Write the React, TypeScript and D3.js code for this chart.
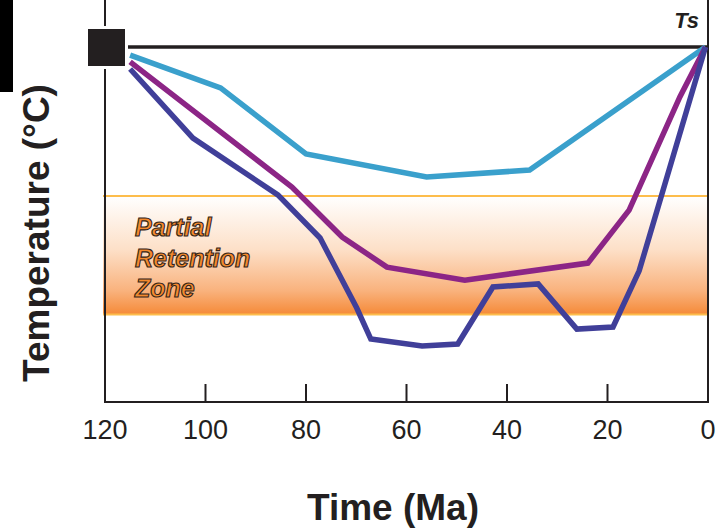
import React, { useEffect, useRef } from "react";
import * as d3 from "d3";

// time axis (Ma)
const ageTicks = [120, 100, 80, 60, 40, 20, 0];

// partial retention zone bounds (°C) and surface temperature
const przBounds = [63, 113];
const surfaceTemp = 0;
const przLines = ["Partial", "Retention", "Zone"];

// three cooling paths: age (Ma) and temperature (°C)
const shallowAges = [115, 97, 80, 56, 35.5, 0.5];
const shallowTemps = [3.4, 17.3, 45.2, 54.9, 52, 0];

const middleAges = [115, 82.8, 72.8, 63.9, 48.4, 23.9, 15.7, 5.6, 0.5];
const middleTemps = [6.3, 59.2, 80.3, 93, 98.5, 91.3, 68.9, 21.1, 0];

const deepAges = [115, 102.5, 85.6, 77.2, 69.9, 67.1, 56.9, 49.8, 42.8, 33.8, 26.1, 18.9, 13.7, 0.5];
const deepTemps = [9.3, 38.5, 62.5, 80.7, 110.3, 123.4, 126.3, 125.5, 101.4, 100.1, 119.2, 118.3, 94.6, 0];

interface PathSeries {
  name: string;
  ages: number[];
  temps: number[];
  color: string;
}

const paths: PathSeries[] = [
  { name: "shallow", ages: shallowAges, temps: shallowTemps, color: "#3aa0cc" },
  { name: "middle", ages: middleAges, temps: middleTemps, color: "#8c2586" },
  { name: "deep", ages: deepAges, temps: deepTemps, color: "#403f99" },
];

const width = 716;
const height = 531;
const ink = "#231f20";

const CoolingChart = () => {
  const ref = useRef<HTMLDivElement>(null);

  useEffect(() => {
    document.body.style.margin = "0";
    d3.select(ref.current).select("svg").remove();
    const svg = d3
      .select(ref.current)
      .append("svg")
      .attr("width", width)
      .attr("height", height)
      .style("display", "block")
      .style("font-family", "'Liberation Sans', Arial, Helvetica, sans-serif");

    const x = d3.scaleLinear().domain([120, 0]).range([105, 708]);
    const y = d3.scaleLinear().domain([0, 150]).range([47, 402]);
    const bottom = y(150);

    // partial retention zone
    const defs = svg.append("defs");
    const grad = defs
      .append("linearGradient")
      .attr("id", "przGrad")
      .attr("x1", 0)
      .attr("y1", 0)
      .attr("x2", 0)
      .attr("y2", 1);
    [
      [0, "#ffffff"],
      [0.45, "#fde0c8"],
      [0.8, "#f9b27d"],
      [1, "#f58a38"],
    ].forEach(([o, c]) => grad.append("stop").attr("offset", o as number).attr("stop-color", c as string));

    svg
      .append("rect")
      .attr("x", x(120) - 2)
      .attr("y", y(przBounds[0]))
      .attr("width", x(0) - x(120) + 2)
      .attr("height", y(przBounds[1]) - y(przBounds[0]))
      .attr("fill", "url(#przGrad)");

    przBounds.forEach((t) => {
      svg
        .append("line")
        .attr("x1", x(120) - 2)
        .attr("x2", x(0))
        .attr("y1", y(t))
        .attr("y2", y(t))
        .attr("stroke", "#fdbd4c")
        .attr("stroke-width", 2);
    });

    przLines.forEach((word, i) => {
      svg
        .append("text")
        .attr("x", 135)
        .attr("y", y(przBounds[0]) + 40 + i * 30.5)
        .attr("fill", "#f58a2e")
        .attr("stroke", "#33241a")
        .attr("stroke-width", 1.1)
        .style("font-size", "25px")
        .style("font-weight", "bold")
        .style("font-style", "italic")
        .text(word);
    });

    // frame
    const frame = svg.append("g").attr("stroke", ink).attr("stroke-width", 2).attr("fill", "none");
    frame.append("line").attr("x1", x(120)).attr("x2", x(120)).attr("y1", 0).attr("y2", bottom);
    frame.append("line").attr("x1", x(0)).attr("x2", x(0)).attr("y1", 0).attr("y2", bottom);
    frame.append("line").attr("x1", x(120) - 1).attr("x2", x(0) + 1).attr("y1", bottom).attr("y2", bottom);

    ageTicks
      .filter((t) => t !== 120 && t !== 0)
      .forEach((t) => {
        frame.append("line").attr("x1", x(t)).attr("x2", x(t)).attr("y1", bottom - 18).attr("y2", bottom);
      });

    svg
      .append("g")
      .selectAll("text")
      .data(ageTicks)
      .enter()
      .append("text")
      .attr("x", (d) => x(d))
      .attr("y", bottom + 37)
      .attr("text-anchor", "middle")
      .attr("fill", ink)
      .style("font-size", "27px")
      .text((d) => d);

    // surface temperature line
    svg
      .append("line")
      .attr("x1", x(120))
      .attr("x2", x(0))
      .attr("y1", y(surfaceTemp))
      .attr("y2", y(surfaceTemp))
      .attr("stroke", ink)
      .attr("stroke-width", 3.5);

    svg
      .append("text")
      .attr("x", 699)
      .attr("y", 28)
      .attr("text-anchor", "end")
      .attr("fill", ink)
      .style("font-size", "22px")
      .style("font-weight", "bold")
      .style("font-style", "italic")
      .text("Ts");

    // cooling paths
    const line = d3
      .line<[number, number]>()
      .x((d) => x(d[0]))
      .y((d) => y(d[1]));

    paths.forEach((p) => {
      svg
        .append("path")
        .datum(p.ages.map((a, i) => [a, p.temps[i]] as [number, number]))
        .attr("d", line)
        .attr("fill", "none")
        .attr("stroke", p.color)
        .attr("stroke-width", 5.5)
        .attr("stroke-linejoin", "miter");
    });

    // starting point marker
    svg
      .append("rect")
      .attr("x", x(120) - 17)
      .attr("y", y(surfaceTemp) - 18)
      .attr("width", 37)
      .attr("height", 37)
      .attr("fill", ink)
      .attr("stroke", "#ffffff")
      .attr("stroke-width", 6)
      .style("paint-order", "stroke");

    // black tab on the left edge
    svg.append("rect").attr("x", 0).attr("y", 0).attr("width", 13).attr("height", 92).attr("fill", "#000");

    // axis titles
    svg
      .append("text")
      .attr("transform", `translate(49, 233) rotate(-90)`)
      .attr("text-anchor", "middle")
      .attr("fill", ink)
      .style("font-size", "37px")
      .style("font-weight", "bold")
      .text("Temperature (°C)");

    svg
      .append("text")
      .attr("x", 393)
      .attr("y", 520)
      .attr("text-anchor", "middle")
      .attr("fill", ink)
      .style("font-size", "37px")
      .style("font-weight", "bold")
      .text("Time (Ma)");
  }, []);

  return <div ref={ref}></div>;
};

export default function App() {
  return <CoolingChart />;
}
